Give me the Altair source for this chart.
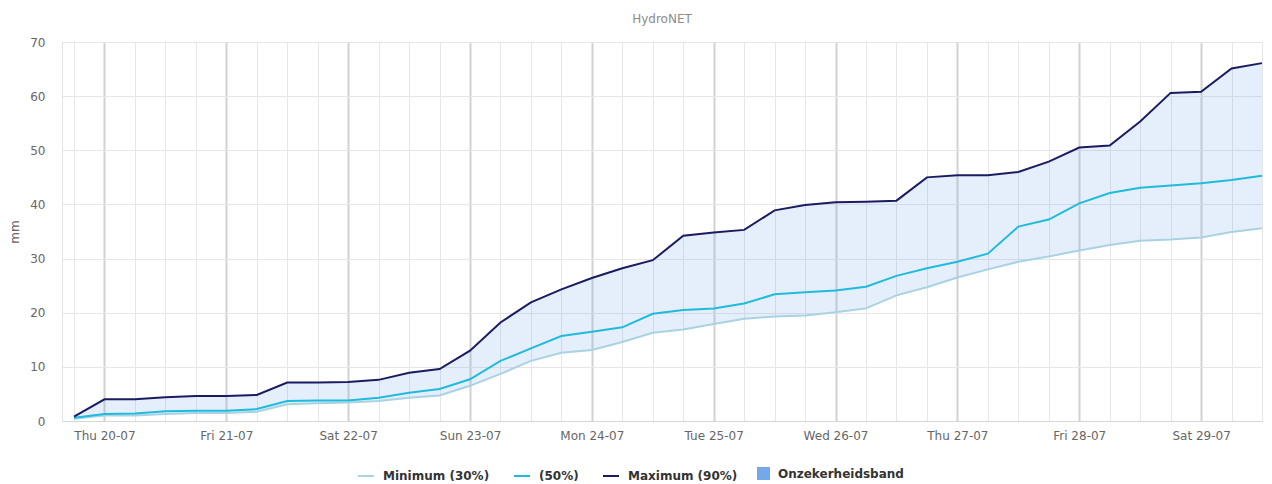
import altair as alt
import pandas as pd

# 6-hourly time steps: Wed 19-07-2023 18:00 UTC .. Sat 29-07-2023 12:00 UTC
start = "2023-07-19T18:00:00Z"
n_steps = 40
times = pd.date_range(start=start, periods=n_steps, freq="6h")

max_90 = [0.8, 4.0, 4.0, 4.4, 4.6, 4.6, 4.8, 7.1, 7.1, 7.2,
          7.6, 8.9, 9.6, 13.0, 18.2, 21.9, 24.3, 26.4, 28.2, 29.7,
          34.2, 34.8, 35.3, 38.9, 39.9, 40.4, 40.5, 40.7, 45.0, 45.4,
          45.4, 46.0, 47.9, 50.5, 50.9, 55.3, 60.6, 60.8, 65.1, 66.1]
p_50 = [0.6, 1.3, 1.4, 1.8, 1.9, 1.9, 2.2, 3.7, 3.8, 3.8,
        4.3, 5.2, 5.9, 7.7, 11.1, 13.4, 15.7, 16.5, 17.3, 19.8,
        20.5, 20.8, 21.7, 23.4, 23.8, 24.1, 24.8, 26.8, 28.2, 29.4,
        30.9, 35.9, 37.2, 40.2, 42.1, 43.1, 43.5, 43.9, 44.5, 45.3]
min_30 = [0.4, 1.0, 1.0, 1.3, 1.5, 1.5, 1.7, 3.1, 3.3, 3.4,
          3.7, 4.3, 4.7, 6.5, 8.7, 11.1, 12.6, 13.1, 14.6, 16.3,
          16.9, 17.9, 18.9, 19.3, 19.5, 20.1, 20.8, 23.2, 24.7, 26.5,
          28.0, 29.4, 30.4, 31.5, 32.5, 33.3, 33.5, 33.9, 34.9, 35.6]

line_names = ["Minimum (30%)", "(50%)", "Maximum (90%)"]
line_colors = ["#a9d2e2", "#1fbbdc", "#1b1b62"]
band_name = "Onzekerheidsband"
band_color = "#74a8e8"

df = pd.DataFrame({
    "time": times.strftime("%Y-%m-%dT%H:%M:%SZ"),
    "Minimum (30%)": min_30,
    "(50%)": p_50,
    "Maximum (90%)": max_90,
})

tick_ms = [int(t.value // 10**6) for t in times]
x_min = alt.DateTime(year=2023, month=7, date=19, hours=15, minutes=38, utc=True)
x_max = alt.DateTime(year=2023, month=7, date=29, hours=12, utc=True)

FONT = "DejaVu Sans"

x_enc = alt.X(
    "time:T",
    scale=alt.Scale(type="utc", domain=[x_min, x_max]),
    axis=alt.Axis(
        title=None,
        values=tick_ms,
        labelExpr="utchours(datum.value) == 0 ? utcFormat(datum.value, '%a %d-%m') : ''",
        labelFont=FONT, labelFontSize=12, labelColor="#666666",
        labelPadding=9, ticks=False, tickSize=0,
        labelOverlap=False, labelFlush=False,
        grid=True,
        gridColor={"condition": {"test": "utchours(datum.value) == 0", "value": "#d2d2d2"}, "value": "#e6e6e6"},
        gridWidth={"condition": {"test": "utchours(datum.value) == 0", "value": 2}, "value": 1},
        domainColor="#d6d6d6",
    ),
)

y_scale = alt.Scale(domain=[0, 70], nice=False)
y_axis = alt.Axis(
    title="mm", titleFont=FONT, titleFontSize=12, titleFontWeight="normal",
    titleColor="#666666", titlePadding=8,
    values=list(range(0, 71, 10)), labelFont=FONT, labelFontSize=12,
    labelColor="#666666", labelPadding=17, ticks=False, tickSize=0,
    gridColor="#e6e6e6", domainColor="#e2e2e2",
)

common_legend = dict(
    title=None, orient="none", direction="horizontal",
    labelFont=FONT, labelFontSize=12, labelFontWeight="bold", labelColor="#333333",
    labelOffset=8, columnPadding=20, symbolOpacity=1, labelLimit=400,
)

line_legend = alt.Legend(
    columns=3, symbolType="stroke", symbolSize=256, symbolStrokeWidth=2,
    legendX=295, legendY=425, **common_legend,
)
band_legend = alt.Legend(
    columns=1, symbolType="square", symbolSize=169, symbolStrokeWidth=0,
    legendX=695, legendY=425, **common_legend,
)

base = alt.Chart(df)

band = base.transform_calculate(band="'" + band_name + "'").mark_area(fillOpacity=0.19).encode(
    x=x_enc,
    y=alt.Y("Maximum (90%):Q", scale=y_scale, axis=y_axis),
    y2="Minimum (30%):Q",
    fill=alt.Fill("band:N",
                  scale=alt.Scale(domain=[band_name], range=[band_color]),
                  legend=band_legend),
)

lines = base.transform_fold(
    line_names, as_=["series", "value"]
).mark_line(strokeWidth=2).encode(
    x=x_enc,
    y=alt.Y("value:Q", scale=y_scale, axis=y_axis),
    color=alt.Color("series:N", scale=alt.Scale(domain=line_names, range=line_colors),
                    legend=line_legend, sort=line_names),
)

chart = alt.layer(band, lines).properties(
    width=1200,
    height=379,
    title=alt.TitleParams("HydroNET", font=FONT, fontSize=12, fontWeight="normal",
                          color="#8c8c8c", anchor="middle", offset=10),
    autosize=alt.AutoSizeParams(type="none"),
    padding={"left": 54, "top": 34, "right": 2, "bottom": 60},
).configure_view(stroke=None).configure(background="white")

chart.save("out.html", embed_options={"renderer": "svg", "actions": False})
